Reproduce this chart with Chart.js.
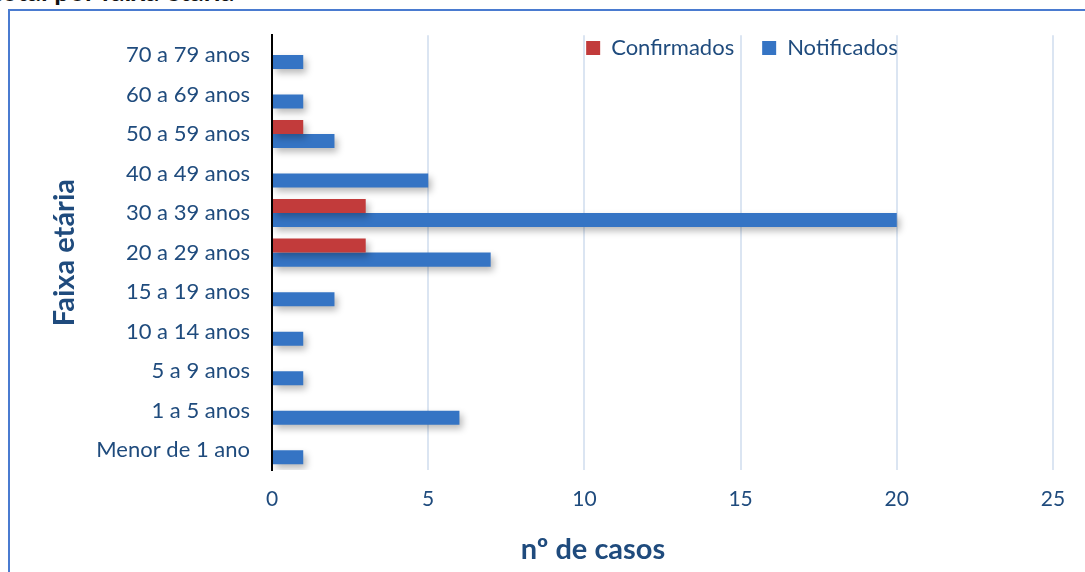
<!DOCTYPE html>
<html>
<head>
<meta charset="utf-8">
<script src="https://cdn.jsdelivr.net/npm/chart.js@4"></script>
<style>
    body { margin: 0; background: #fff; overflow: hidden; }
    #wrap { position: relative; width: 1085px; height: 572px; }
    #frame { position: absolute; left: 8px; top: 9px; width: 1100px; height: 600px; border-left: 2px solid #4a7bd0; border-top: 2px solid #4a7bd0; }
    #cut { position: absolute; left: -8px; top: -26px; font: bold 27px Lato, sans-serif; color: #111; white-space: nowrap; }
    #xtitle { position: absolute; left: 493px; width: 200px; top: 530px; text-align: center; font: bold 29px Lato, sans-serif; color: #1f4b7d; }
    canvas { position: absolute; left: 0; top: 0; }
</style>
</head>
<body>
<div id="wrap">
    <div id="cut">total por faixa etária</div>
    <div id="frame"></div>
    <canvas id="chart" width="1085" height="572"></canvas>
    <div id="xtitle">nº de casos</div>
</div>
<script>
const ageGroups = ['70 a 79 anos', '60 a 69 anos', '50 a 59 anos', '40 a 49 anos', '30 a 39 anos',
    '20 a 29 anos', '15 a 19 anos', '10 a 14 anos', '5 a 9 anos', '1 a 5 anos', 'Menor de 1 ano'];
const confirmados = [0, 0, 1, 0, 3, 3, 0, 0, 0, 0, 0];
const notificados = [1, 1, 2, 5, 20, 7, 2, 1, 1, 6, 1];

const textBlue = '#1f4b7d';
const fontFamily = 'Lato, sans-serif';

// soft drop shadow behind the bars
const barShadow = {
    id: 'barShadow',
    beforeDatasetsDraw(chart) {
        const ctx = chart.ctx;
        ctx.save();
        ctx.shadowColor = 'rgba(0,0,0,0.28)';
        ctx.shadowBlur = 7;
        ctx.shadowOffsetX = 3;
        ctx.shadowOffsetY = 4;
    },
    afterDatasetsDraw(chart) {
        chart.ctx.restore();
    }
};

// legend sits inside the plot, ending at the 20 gridline
const legendShift = {
    id: 'legendShift',
    afterLayout(chart) {
        const lg = chart.legend;
        const h = lg.bottom - lg.top;
        lg.top = 48 - 28 - 11;
        lg.bottom = lg.top + h;
        lg.right = chart.scales.x.getPixelForValue(20) + 29;
    }
};

const ctx = document.getElementById('chart').getContext('2d');
new Chart(ctx, {
    type: 'bar',
    data: {
        labels: ageGroups,
        datasets: [
            { label: 'Confirmados', data: confirmados, backgroundColor: '#c23b3b' },
            { label: 'Notificados', data: notificados, backgroundColor: '#3574c4' }
        ]
    },
    options: {
        indexAxis: 'y',
        responsive: false,
        animation: false,
        layout: { padding: { left: 47, right: 32, top: -25, bottom: 0 } },
        datasets: { bar: { categoryPercentage: 0.71, barPercentage: 1 } },
        plugins: {
            legend: {
                position: 'top',
                align: 'end',
                labels: {
                    boxWidth: 14,
                    boxHeight: 14,
                    padding: 28,
                    color: textBlue,
                    font: { family: fontFamily, size: 22 }
                }
            },
            tooltip: { enabled: false }
        },
        scales: {
            x: {
                min: 0,
                max: 25,
                ticks: { stepSize: 5, padding: 17, color: textBlue, font: { family: fontFamily, size: 21 } },
                grid: { color: '#dbe5f2', lineWidth: 2, drawTicks: false },
                border: { display: false },
                afterFit(scale) { scale.height = 102; }
            },
            y: {
                ticks: { padding: 22, color: textBlue, font: { family: fontFamily, size: 22 } },
                grid: { display: false, drawTicks: false },
                border: { color: '#000', width: 2 },
                title: { display: true, text: 'Faixa etária', color: textBlue, padding: { top: 0, bottom: 20 },
                    font: { family: fontFamily, size: 29, weight: 'bold' } },
                afterFit(scale) { scale.width = 272 - 47; }
            }
        }
    },
    plugins: [barShadow, legendShift]
});
</script>
</body>
</html>
